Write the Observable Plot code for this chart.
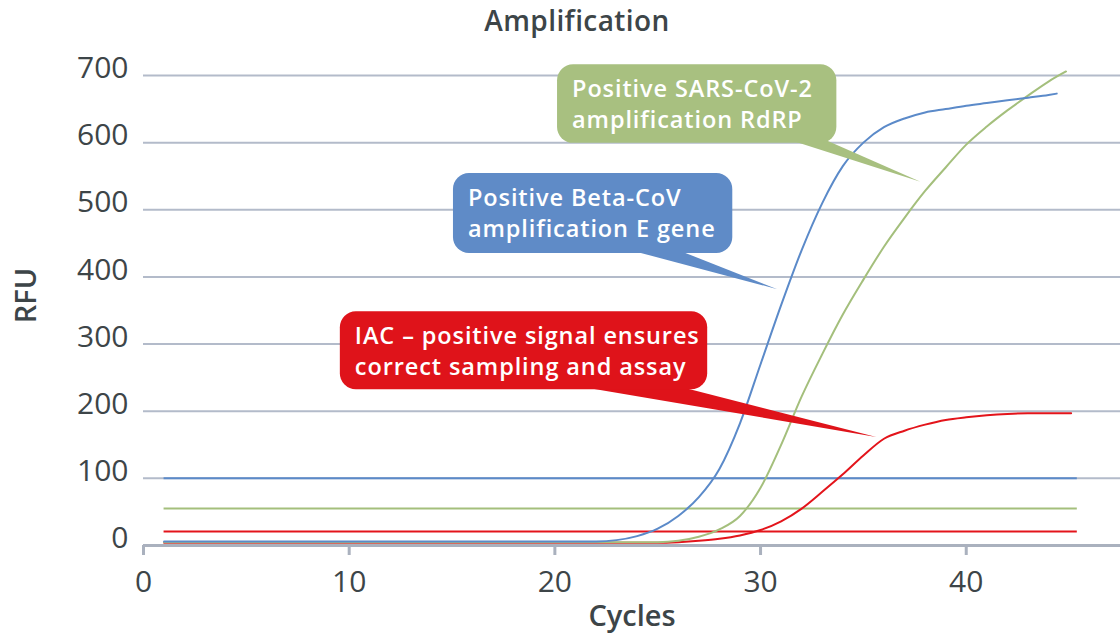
<!DOCTYPE html>
<html>
<head>
<meta charset="utf-8">
<script src="https://cdn.jsdelivr.net/npm/d3@7"></script>
<script src="https://cdn.jsdelivr.net/npm/@observablehq/plot@0.6"></script>
<style>
  body { margin: 0; background: #fff; font-family: "Open Sans", sans-serif; }
  #title { position: relative; height: 40px; }
  #title span { position: absolute; left: 577px; top: 1px; transform: translateX(-50%);
    font-size: 28px; font-weight: 600; color: #3d4548; letter-spacing: 0.4px; white-space: nowrap; }
  #chart svg { display: block; overflow: visible; }
</style>
</head>
<body>
<div id="title"><span>Amplification</span></div>
<div id="chart"></div>
<script>
// ---- data ----
const xTicks = [0, 10, 20, 30, 40];
const yTicks = [0, 100, 200, 300, 400, 500, 600, 700];

const blueCycles = [1,2,3,4,5,6,7,8,9,10,11,12,13,14,15,16,17,18,19,20,21,22,23,24,25,26,27,28,29,30,31,32,33,34,35,36,37,38,39,40,41,42,43,44,44.4];
const blueRFU    = [6,6,6,6,6,6,6,6,6,6,6,6,6,6,6,6,6,6,6,6,6,6,8,14,25,44,72,114,182,270,358,440,510,565,600,623,636,645,650,655,659,663,667,671,673];

const greenCycles = [1,2,3,4,5,6,7,8,9,10,11,12,13,14,15,16,17,18,19,20,21,22,23,24,25,26,27,28,29,30,31,32,33,34,35,36,37,38,39,40,41,42,43,44,44.85];
const greenRFU    = [5,5,5,5,5,5,5,5,5,5,5,5,5,5,5,5,5,5,5,5,5,5,5,5,5,7,13,24,44,86,150,222,285,344,396,445,488,528,563,597,624,648,670,691,706];

const redCycles = [1,2,3,4,5,6,7,8,9,10,11,12,13,14,15,16,17,18,19,20,21,22,23,24,25,26,27,28,29,30,31,32,33,34,35,36,37,38,39,40,41,42,43,44,45.1];
const redRFU    = [4,4,4,4,4,4,4,4,4,4,4,4,4,4,4,4,4,4,4,4,4,4,4,4,4,5,7,10,15,23,36,55,80,106,134,159,171,180,187,191,194,196,197,197,197];

const thresholdNames  = ["Beta-CoV E gene", "SARS-CoV-2 RdRP", "IAC"];
const thresholdValues = [100, 55, 21];
const thresholdFrom = 1, thresholdTo = 45.4;

const seriesColors = { blue: "#5b8ac9", green: "#a4bf7c", red: "#e3141b" };

// callout texts and anchors (data units: cycles / RFU)
const calloutTexts = [
  ["Positive SARS-CoV-2", "amplification RdRP"],
  ["Positive Beta-CoV", "amplification E gene"],
  ["IAC – positive signal ensures", "correct sampling and assay"]
];
const calloutFills = ["#a8c080", "#5f8bc7", "#df131a"];
const calloutBoxes = [   // [cycleLeft, cycleRight, rfuTop, rfuBottom]
  [20.13, 33.71, 716, 599],
  [15.07, 28.65, 554, 435],
  [9.57, 27.43, 348, 232]
];
const calloutPointers = [ // [baseCycle1, baseCycle2, tipCycle, tipRFU]
  [31.57, 33.27, 37.80, 541],
  [23.83, 26.12, 30.84, 381],
  [21.44, 26.21, 35.65, 161]
];

// ---- tables ----
const toRows = (cs, vs, s) => cs.map((c, i) => ({cycle: c, rfu: vs[i], series: s}));
const curves = [
  ...toRows(redCycles, redRFU, "red"),
  ...toRows(greenCycles, greenRFU, "green"),
  ...toRows(blueCycles, blueRFU, "blue")
];
const thresholds = thresholdValues.map((v, i) => ({name: thresholdNames[i], rfu: v, color: [seriesColors.blue, seriesColors.green, seriesColors.red][i]}));

const textColor = "#3d4548";
const axisGrey = "#aab1be";

function callouts(index, scales) {
  const g = d3.create("svg:g");
  calloutTexts.forEach((lines, k) => {
    const [c1, c2, r1, r2] = calloutBoxes[k];
    const x1 = scales.x(c1), x2 = scales.x(c2), yTop = scales.y(r1), yBot = scales.y(r2);
    const [b1, b2, tc, tr] = calloutPointers[k];
    g.append("polygon")
      .attr("points", [[scales.x(b1), yBot - 2], [scales.x(b2), yBot - 2], [scales.x(tc), scales.y(tr)]].map(p => p.join(",")).join(" "))
      .attr("fill", calloutFills[k]);
    g.append("rect")
      .attr("x", x1).attr("y", yTop).attr("width", x2 - x1).attr("height", yBot - yTop)
      .attr("rx", 16).attr("fill", calloutFills[k]);
    const cy = (yTop + yBot) / 2;
    lines.forEach((t, i) => {
      g.append("text")
        .attr("x", x1 + 15).attr("y", cy + (i === 0 ? -15.5 : 15.5))
        .attr("dominant-baseline", "central")
        .attr("text-anchor", "start")
        .attr("fill", "#fff").attr("font-size", 23.5).attr("font-weight", 600)
        .attr("font-family", "Open Sans, sans-serif")
        .attr("letter-spacing", 0.9)
        .text(t);
    });
  });
  return g.node();
}

const chart = Plot.plot({
  width: 1120,
  height: 597,
  marginLeft: 143,
  marginRight: 0,
  marginTop: 35,
  marginBottom: 92,
  style: { fontFamily: "Open Sans, sans-serif", background: "#fff" },
  x: { domain: [0, 47.5] },
  y: { domain: [0, 700] },
  marks: [
    Plot.gridY({ ticks: yTicks.filter(t => t > 0), stroke: "#b3bbca", strokeOpacity: 1, strokeWidth: 2 }),
    Plot.axisY({ ticks: yTicks, tickSize: 0, tickPadding: 15, fill: textColor, fontSize: 30, fontWeight: 400, dy: -7, label: null }),
    Plot.axisX({ ticks: xTicks, tickSize: 10, tickPadding: 15, stroke: axisGrey, strokeWidth: 3, fill: textColor, fontSize: 30, fontWeight: 400, label: null }),
    Plot.ruleY([0], { stroke: axisGrey, strokeWidth: 3 }),
    Plot.ruleY(thresholds, { y: "rfu", x1: thresholdFrom, x2: thresholdTo, stroke: "color", strokeWidth: 2 }),
    Plot.line(curves, { x: "cycle", y: "rfu", z: "series", stroke: d => seriesColors[d.series], strokeWidth: 2, curve: "monotone-x" }),
    callouts,
    Plot.text(["RFU"], { text: d => d, frameAnchor: "left", textAnchor: "middle", dx: -117, dy: -15, rotate: -90, fontSize: 29, fontWeight: 600, fill: textColor }),
    Plot.text(["Cycles"], { text: d => d, frameAnchor: "bottom", dy: 80, fontSize: 29, fontWeight: 600, fill: textColor })
  ]
});
document.getElementById("chart").appendChild(chart);
</script>
</body>
</html>
